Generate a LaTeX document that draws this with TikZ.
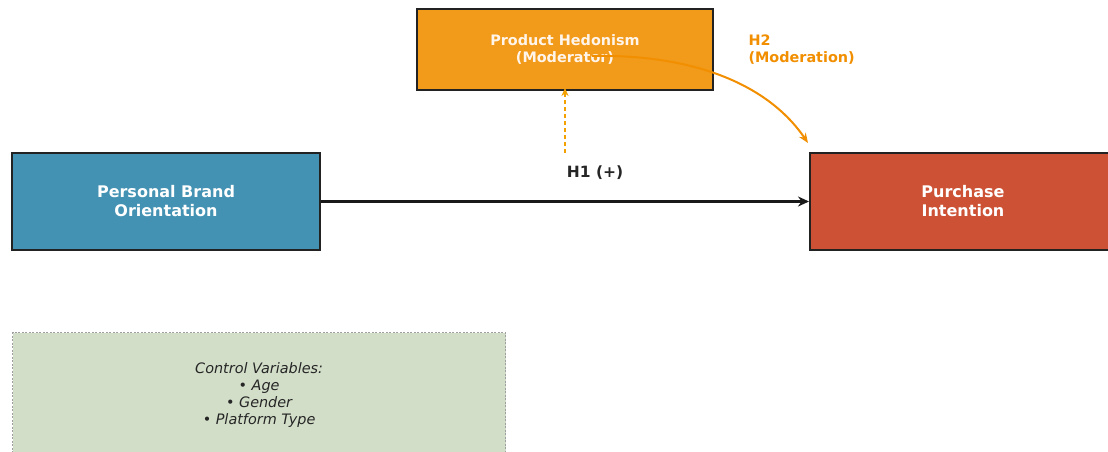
\documentclass[tikz,border=0pt]{standalone}
\usepackage{fontspec}
\setmainfont{DejaVu Sans}
\usetikzlibrary{arrows.meta}
\definecolor{cblue}{HTML}{4392B3}
\definecolor{cred}{HTML}{CD5134}
\definecolor{corange}{HTML}{F29A1A}
\definecolor{ctext}{HTML}{F18F01}
\definecolor{cgreen}{HTML}{D2DEC8}
\definecolor{cedge}{HTML}{222222}
\tikzset{
  var/.style={draw=cedge, line width=2pt, inner sep=0pt, text=white,
    align=center, font=\fontsize{16}{19}\selectfont\bfseries},
  modbox/.style={var, font=\fontsize{14.4}{17}\selectfont\bfseries, text=white!92!orange},
  ctrl/.style={draw=gray!75, dashed, dash pattern=on 2pt off 1.5pt, line width=1.2pt, fill=cgreen,
    align=center, font=\fontsize{14.4}{17}\selectfont\itshape, text=black!85},
  lbl/.style={font=\fontsize{15.5}{18}\selectfont\bfseries, text=black!85},
  mlbl/.style={font=\fontsize{14.4}{17}\selectfont\bfseries, text=ctext, align=left},
  mainarrow/.style={line width=2.6pt, draw=black!90, -{Stealth[length=11pt,width=10pt]}},
  modarrow/.style={line width=2pt, draw=ctext, -{Stealth[length=10pt,width=8pt]}},
  dasharrow/.style={line width=2pt, draw=ctext!85!yellow, dashed, dash pattern=on 4pt off 3pt, -{Stealth[length=8pt,width=7pt]}}
}
\begin{document}
\begin{tikzpicture}[x=1pt,y=-1pt]
\useasboundingbox (0,0) rectangle (1108,452);
\fill[white] (0,0) rectangle (1108,452);
\node[var, fill=cblue, minimum width=308pt, minimum height=97pt] (pbo) at (166,201.5) {Personal Brand\\Orientation};
\node[var, fill=cred, minimum width=305pt, minimum height=97pt] (pi) at (962.5,201.5) {};
\node[font=\fontsize{16}{19}\selectfont\bfseries, text=white, align=center] (pit) at (963,201.5) {Purchase\\Intention};
\node[modbox, fill=corange, minimum width=296pt, minimum height=81pt] (ph) at (565,49.5) {Product Hedonism\\(Moderator)};
\node[ctrl, minimum width=493pt, minimum height=124pt, anchor=north west] (cv) at (12,332) {Control Variables:\\• Age\\• Gender\\• Platform Type};
\draw[mainarrow] (pbo.east) -- (pi.west);
\node[lbl] (h1) at (595,173) {H1 (+)};
\coordinate (dstart) at (565,153);
\draw[dasharrow] (dstart) -- ([yshift=3pt]ph.south);
\coordinate (cstart) at (592,56);
\coordinate (cend) at (808,143);
\draw[modarrow] (cstart) .. controls (685,54) and (765,80) .. (cend);
\node[mlbl, anchor=west] (h2) at (745,50) {H2\\(Moderation)};
\end{tikzpicture}
\end{document}
